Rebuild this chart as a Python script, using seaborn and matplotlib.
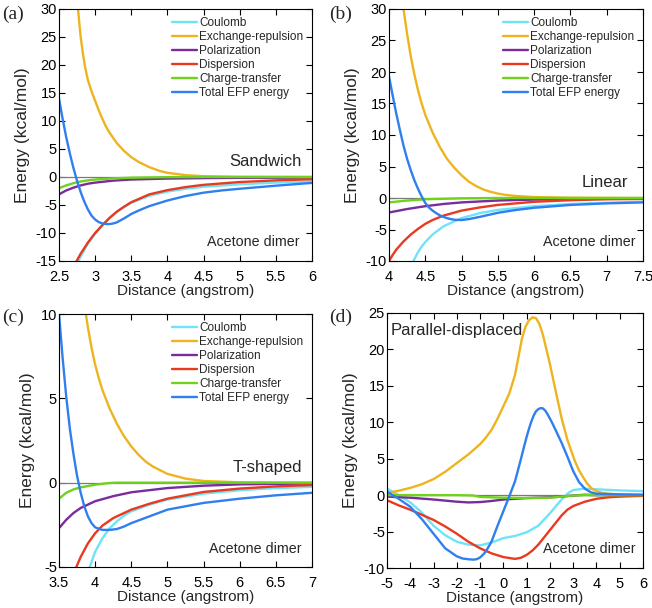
import matplotlib
matplotlib.use("Agg")
import matplotlib.pyplot as plt
import matplotlib.ticker as mticker
import pandas as pd
import seaborn as sns

terms = ["Coulomb", "Exchange-repulsion", "Polarization", "Dispersion",
         "Charge-transfer", "Total EFP energy"]
colors = ["#6fe3f7", "#eeb420", "#7a2b9c", "#e9391f", "#6ed31a", "#2f7ff0"]

# ---- (a) Sandwich ----
a_x_coul = [2.7, 2.8, 2.9, 3.0, 3.1, 3.2, 3.3, 3.4, 3.5, 3.75, 4.0, 4.25, 4.5, 5.0, 5.5, 6.0]
a_coul = [-17.0, -14.2, -11.9, -10.1, -8.6, -7.3, -6.2, -5.35, -4.6, -3.35, -2.6, -2.1, -1.75, -1.3, -1.0, -0.8]
a_x_exch = [2.74, 2.76, 2.78, 2.8, 2.83, 2.86, 2.9, 2.95, 3.0, 3.05, 3.1, 3.15, 3.2, 3.3,
            3.4, 3.5, 3.6, 3.75, 3.9, 4.0, 4.25, 4.5, 5.0, 6.0]
a_exch = [33.5, 30.5, 27.6, 25.0, 22.1, 19.7, 17.3, 15.3, 13.6, 11.9, 10.4, 9.0, 7.9, 6.05,
          4.65, 3.55, 2.7, 1.75, 1.05, 0.75, 0.33, 0.14, 0.03, 0.0]
a_x_pol = [2.5, 2.6, 2.7, 2.8, 2.9, 3.0, 3.25, 3.5, 4.0, 4.5, 5.0, 6.0]
a_pol = [-3.1, -2.4, -1.9, -1.5, -1.2, -1.0, -0.65, -0.45, -0.28, -0.2, -0.15, -0.1]
a_x_disp = [2.7, 2.8, 2.9, 3.0, 3.1, 3.2, 3.3, 3.4, 3.5, 3.75, 4.0, 4.25, 4.5, 5.0, 5.5, 6.0]
a_disp = [-16.0, -13.7, -11.7, -10.0, -8.6, -7.3, -6.2, -5.3, -4.5, -3.1, -2.35, -1.8, -1.4, -0.9, -0.6, -0.4]
a_x_ct = [2.5, 2.6, 2.7, 2.8, 2.9, 3.0, 3.25, 3.5, 4.0, 4.5, 6.0]
a_ct = [-2.0, -1.5, -1.1, -0.8, -0.6, -0.45, -0.25, -0.12, -0.03, 0.0, 0.0]
a_x_tot = [2.5, 2.55, 2.6, 2.65, 2.7, 2.75, 2.8, 2.85, 2.9, 2.95, 3.0, 3.05, 3.1, 3.15, 3.2,
           3.25, 3.3, 3.4, 3.5, 3.6, 3.75, 3.9, 4.0, 4.25, 4.5, 4.75, 5.0, 5.5, 6.0]
a_tot = [14.0, 10.4, 7.1, 4.2, 1.6, -0.7, -2.7, -4.4, -5.8, -6.9, -7.6, -8.05, -8.3, -8.4, -8.4,
         -8.3, -8.1, -7.4, -6.6, -6.0, -5.2, -4.6, -4.2, -3.4, -2.8, -2.4, -2.1, -1.55, -1.05]

# ---- (b) Linear ----
b_x_coul = [4.3, 4.35, 4.4, 4.45, 4.5, 4.6, 4.75, 4.9, 5.0, 5.25, 5.5, 6.0, 6.5, 7.0, 7.5]
b_coul = [-11.0, -9.7, -8.6, -7.7, -7.0, -5.8, -4.5, -3.7, -3.2, -2.4, -1.9, -1.3, -0.95, -0.75, -0.6]
b_x_exch = [4.18, 4.2, 4.25, 4.3, 4.35, 4.4, 4.45, 4.5, 4.6, 4.7, 4.8, 4.9, 5.0, 5.1, 5.2,
            5.3, 5.4, 5.5, 5.6, 5.75, 6.0, 6.5, 7.5]
b_exch = [32.0, 30.0, 26.0, 22.5, 19.6, 17.1, 15.0, 13.2, 10.4, 8.1, 6.2, 4.8, 3.6, 2.6, 1.9,
          1.35, 0.98, 0.7, 0.5, 0.32, 0.15, 0.04, 0.0]
b_x_pol = [4.0, 4.25, 4.5, 4.75, 5.0, 5.5, 6.0, 7.0, 7.5]
b_pol = [-2.3, -1.75, -1.3, -0.95, -0.7, -0.4, -0.25, -0.1, -0.07]
b_x_disp = [4.0, 4.05, 4.1, 4.2, 4.3, 4.4, 4.5, 4.6, 4.75, 5.0, 5.25, 5.5, 6.0, 6.5, 7.0, 7.5]
b_disp = [-10.0, -9.05, -8.2, -6.9, -5.8, -4.9, -4.1, -3.5, -2.8, -2.0, -1.5, -1.1, -0.6, -0.35, -0.2, -0.15]
b_x_ct = [4.0, 4.25, 4.5, 5.0, 5.5, 7.5]
b_ct = [-0.7, -0.4, -0.2, -0.05, 0.0, 0.0]
b_x_tot = [4.0, 4.05, 4.1, 4.15, 4.2, 4.25, 4.3, 4.35, 4.4, 4.45, 4.5, 4.55, 4.6, 4.65, 4.7,
           4.75, 4.8, 4.85, 4.9, 5.0, 5.1, 5.25, 5.5, 5.75, 6.0, 6.5, 7.0, 7.5]
b_tot = [19.3, 16.3, 13.4, 10.8, 8.3, 6.2, 4.4, 2.8, 1.45, 0.25, -0.8, -1.5, -2.0, -2.4, -2.75,
         -3.0, -3.2, -3.35, -3.45, -3.5, -3.35, -3.0, -2.35, -1.9, -1.55, -1.1, -0.85, -0.7]

# ---- (c) T-shaped ----
c_x_coul = [3.9, 4.0, 4.1, 4.2, 4.3, 4.4, 4.5, 4.75, 5.0, 5.5, 6.0, 6.5, 7.0]
c_coul = [-5.3, -4.1, -3.3, -2.7, -2.3, -1.95, -1.7, -1.3, -1.0, -0.65, -0.45, -0.32, -0.25]
c_x_exch = [3.85, 3.9, 3.95, 4.0, 4.05, 4.1, 4.2, 4.3, 4.4, 4.5, 4.6, 4.7, 4.8, 5.0, 5.25,
            5.5, 6.0, 7.0]
c_exch = [10.6, 9.2, 8.0, 7.0, 6.2, 5.5, 4.4, 3.5, 2.75, 2.15, 1.65, 1.25, 0.95, 0.52, 0.24,
          0.1, 0.02, 0.0]
c_x_pol = [3.5, 3.6, 3.7, 3.8, 3.9, 4.0, 4.25, 4.5, 5.0, 5.5, 6.0, 7.0]
c_pol = [-2.7, -2.2, -1.8, -1.5, -1.3, -1.1, -0.8, -0.57, -0.32, -0.18, -0.1, -0.05]
c_x_disp = [3.72, 3.8, 3.9, 4.0, 4.1, 4.25, 4.5, 4.75, 5.0, 5.5, 6.0, 6.5, 7.0]
c_disp = [-5.2, -4.4, -3.6, -3.0, -2.55, -2.1, -1.6, -1.25, -0.95, -0.55, -0.35, -0.22, -0.14]
c_x_ct = [3.5, 3.6, 3.7, 3.8, 4.0, 4.2, 4.3, 7.0]
c_ct = [-0.95, -0.6, -0.4, -0.28, -0.12, -0.02, 0.0, 0.0]
c_x_tot = [3.5, 3.55, 3.6, 3.65, 3.7, 3.75, 3.8, 3.85, 3.9, 3.95, 4.0, 4.1, 4.2, 4.3,
           4.4, 4.5, 4.75, 5.0, 5.5, 6.0, 6.5, 7.0]
c_tot = [10.0, 7.4, 5.1, 3.2, 1.7, 0.4, -0.6, -1.4, -2.0, -2.4, -2.65, -2.8, -2.8, -2.75,
         -2.6, -2.4, -2.0, -1.6, -1.2, -0.95, -0.75, -0.6]

# ---- (d) Parallel-displaced ----
d_x_coul = [-5, -4.5, -4, -3.5, -3, -2.5, -2, -1.5, -1, -0.5, 0, 0.5, 1, 1.5, 2, 2.5,
            2.75, 3, 3.5, 4, 5, 6]
d_coul = [0.9, 0.0, -1.0, -2.4, -4.2, -5.5, -6.4, -6.8, -6.9, -6.5, -5.9, -5.6, -5.1,
          -4.2, -2.5, -0.6, 0.2, 0.7, 0.9, 0.8, 0.65, 0.55]
d_x_exch = [-5, -4.5, -4, -3.5, -3, -2.5, -2, -1.5, -1.25, -1, -0.75, -0.5, -0.25, 0, 0.25,
            0.5, 0.65, 0.8, 0.95, 1.1, 1.25, 1.4, 1.55, 1.7, 1.85, 2.0, 2.28, 2.5, 2.75,
            3.07, 3.25, 3.43, 3.6, 3.8, 4.0, 4.25, 4.5, 5, 6]
d_exch = [0.3, 0.6, 1.0, 1.5, 2.2, 3.2, 4.4, 5.6, 6.3, 7.0, 7.9, 9.0, 10.5, 12.2, 13.9,
          16.5, 19.0, 21.5, 23.1, 24.0, 24.4, 24.3, 23.5, 22.0, 20.0, 18.0, 13.8, 10.6, 7.6,
          4.7, 3.4, 2.45, 1.6, 0.9, 0.55, 0.3, 0.2, 0.1, 0.05]
d_x_pol = [-5, -4, -3, -2, -1.5, -1, -0.5, 0, 0.5, 1, 1.5, 2, 2.5, 3, 3.5, 4, 6]
d_pol = [-0.2, -0.35, -0.6, -0.9, -1.0, -0.95, -0.8, -0.6, -0.5, -0.4, -0.35, -0.3, -0.2,
         -0.05, 0.05, 0.0, 0.0]
d_x_disp = [-5, -4.5, -4, -3.5, -3, -2.5, -2, -1.5, -1, -0.5, 0, 0.5, 0.75, 1, 1.25, 1.5,
            1.75, 2, 2.25, 2.5, 2.75, 3, 3.5, 4, 4.5, 5, 6]
d_disp = [-0.7, -1.4, -2.0, -2.7, -3.4, -4.3, -5.3, -6.4, -7.3, -8.0, -8.5, -8.75, -8.6,
          -8.2, -7.6, -6.8, -5.8, -4.8, -3.8, -2.8, -2.0, -1.5, -0.9, -0.5, -0.3, -0.2, -0.1]
d_x_ct = [-5, -2, -1.3, -1, 0, 1, 2, 2.5, 3, 3.5, 6]
d_ct = [0.0, 0.0, -0.05, -0.25, -0.35, -0.4, -0.35, -0.2, -0.05, 0.0, 0.0]
d_x_tot = [-5, -4.5, -4, -3.5, -3, -2.5, -2, -1.75, -1.5, -1.3, -1.15, -1, -0.85, -0.75,
           -0.6, -0.5, -0.25, 0, 0.25, 0.5, 0.75, 0.9, 1.0, 1.1, 1.2, 1.3, 1.4, 1.5, 1.6,
           1.7, 1.8, 1.9, 2.0, 2.1, 2.25, 2.5, 2.75, 3.0, 3.25, 3.5, 3.75, 4.0, 5.0, 6.0]
d_tot = [0.5, -0.5, -1.6, -3.3, -5.3, -7.3, -8.4, -8.7, -8.8, -8.85, -8.8, -8.55, -8.1, -7.7,
         -6.9, -6.3, -4.2, -2.2, -0.2, 1.9, 4.9, 6.8, 8.0, 9.1, 10.1, 10.9, 11.5, 11.8, 11.95,
         11.9, 11.6, 11.1, 10.5, 9.9, 8.9, 7.2, 5.3, 3.3, 1.8, 0.9, 0.4, 0.2, 0.1, 0.05]

panels = [
    dict(tag="(a)", tag_xy=(2, 14), name="Sandwich",
         series=[(a_x_coul, a_coul), (a_x_exch, a_exch), (a_x_pol, a_pol),
                 (a_x_disp, a_disp), (a_x_ct, a_ct), (a_x_tot, a_tot)],
         xlim=(2.5, 6), ylim=(-15, 30), xstep=0.5, ystep=5,
         rect=[59, 9, 253, 252], legend=True,
         name_pos=(0.96, 0.393, "right"), dimer_pos=(0.953, 0.075)),
    dict(tag="(b)", tag_xy=(329, 14), name="Linear",
         series=[(b_x_coul, b_coul), (b_x_exch, b_exch), (b_x_pol, b_pol),
                 (b_x_disp, b_disp), (b_x_ct, b_ct), (b_x_tot, b_tot)],
         xlim=(4, 7.5), ylim=(-10, 30), xstep=0.5, ystep=5,
         rect=[389, 9, 254, 252], legend=True,
         name_pos=(0.94, 0.31, "right"), dimer_pos=(0.972, 0.075)),
    dict(tag="(c)", tag_xy=(2, 317), name="T-shaped",
         series=[(c_x_coul, c_coul), (c_x_exch, c_exch), (c_x_pol, c_pol),
                 (c_x_disp, c_disp), (c_x_ct, c_ct), (c_x_tot, c_tot)],
         xlim=(3.5, 7), ylim=(-5, 10), xstep=0.5, ystep=5,
         rect=[59, 314, 253, 253], legend=True,
         name_pos=(0.96, 0.395, "right"), dimer_pos=(0.96, 0.071)),
    dict(tag="(d)", tag_xy=(329, 317), name="Parallel-displaced",
         series=[(d_x_coul, d_coul), (d_x_exch, d_exch), (d_x_pol, d_pol),
                 (d_x_disp, d_disp), (d_x_ct, d_ct), (d_x_tot, d_tot)],
         xlim=(-5, 6), ylim=(-10, 25), xstep=1, ystep=5,
         rect=[387, 313, 256, 255], legend=False,
         name_pos=(0.016, 0.93, "left"), dimer_pos=(0.973, 0.075)),
]

sns.set_style("ticks")
plt.rcParams["font.family"] = ["Liberation Sans", "DejaVu Sans"]
plt.rcParams["axes.linewidth"] = 0.8

W, H = 652, 608
fig = plt.figure(figsize=(W / 100, H / 100), dpi=100)
palette = dict(zip(terms, colors))
fmt = mticker.FuncFormatter(lambda v, pos: "%g" % v)

for p in panels:
    l, t, w, h = p["rect"]
    ax = fig.add_axes([l / W, 1 - (t + h) / H, w / W, h / H])
    rows = []
    for term, (xs, ys) in zip(terms, p["series"]):
        for xv, yv in zip(xs, ys):
            rows.append((term, xv, yv))
    df = pd.DataFrame(rows, columns=["term", "distance", "energy"])
    ax.axhline(0, color="#7a7a7a", lw=0.9, zorder=1)
    sns.lineplot(data=df, x="distance", y="energy", hue="term", hue_order=terms,
                 palette=palette, estimator=None, lw=1.7, ax=ax, zorder=2)
    ax.set_xlim(*p["xlim"])
    ax.set_ylim(*p["ylim"])
    ax.xaxis.set_major_locator(mticker.MultipleLocator(p["xstep"]))
    ax.yaxis.set_major_locator(mticker.MultipleLocator(p["ystep"]))
    ax.xaxis.set_major_formatter(fmt)
    ax.yaxis.set_major_formatter(fmt)
    ax.tick_params(direction="in", top=True, right=True, length=4, width=0.8,
                   labelsize=10.5, colors="black")
    ax.tick_params(axis="x", pad=6.5)
    ax.tick_params(axis="y", pad=1.5)
    for s in ax.spines.values():
        s.set_visible(True)
        s.set_color("black")
    ax.set_xlabel("Distance (angstrom)", fontsize=11, labelpad=0)
    ax.set_ylabel("Energy (kcal/mol)", fontsize=12.5, labelpad=4)

    handles, labels = ax.get_legend_handles_labels()
    ax.get_legend().remove()
    if p["legend"]:
        for hdl in handles:
            hdl.set_linewidth(1.7)
        ax.legend(handles, labels, loc="upper right", bbox_to_anchor=(0.965, 0.967),
                  frameon=False, fontsize=8.5, handlelength=2.1, handletextpad=0.2,
                  labelspacing=0.17, borderaxespad=0, borderpad=0)

    nx, ny, ha = p["name_pos"]
    ax.text(nx, ny, p["name"], transform=ax.transAxes, ha=ha, va="center", fontsize=12)
    dx, dy = p["dimer_pos"]
    ax.text(dx, dy, "Acetone dimer", transform=ax.transAxes, ha="right", va="center",
            fontsize=10.3)

    tx, ty = p["tag_xy"]
    fig.text(tx / W, 1 - ty / H, p["tag"], ha="left", va="center",
             fontsize=14, family=["Liberation Serif", "DejaVu Serif"])

fig.savefig("out.png", dpi=100)
